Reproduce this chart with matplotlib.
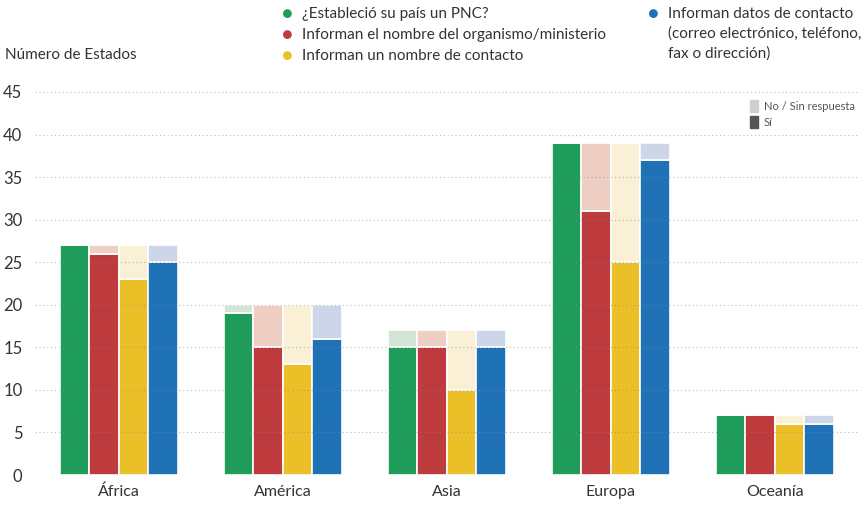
import matplotlib
matplotlib.use("Agg")
import matplotlib.pyplot as plt
import numpy as np

plt.rcParams['font.family'] = ['Lato', 'DejaVu Sans']

regions = ["África", "América", "Asia", "Europa", "Oceanía"]
series = ["¿Estableció su país un PNC?",
          "Informan el nombre del organismo/ministerio",
          "Informan un nombre de contacto",
          "Informan datos de contacto\n(correo electrónico, teléfono,\nfax o dirección)"]
si = [
    [27, 19, 15, 39, 7],
    [26, 15, 15, 31, 7],
    [23, 13, 10, 25, 6],
    [25, 16, 15, 37, 6],
]
totals = [27, 20, 17, 39, 7]
yticks = [0, 5, 10, 15, 20, 25, 30, 35, 40, 45]

dark = ["#1f9c5a", "#be3b3d", "#ebbf27", "#1f72b6"]
light = ["#d3e5d5", "#efcfc4", "#faf0d5", "#cdd5e9"]

fig = plt.figure(figsize=(8.65, 5.08), dpi=100)
ax = fig.add_axes([35/865, 1-475/508, (860-35)/865, (475-92)/508])

x = np.arange(len(regions))
w = 0.18
offs = [-1.5*w, -0.5*w, 0.5*w, 1.5*w]
for i in range(4):
    s = np.array(si[i])
    no = np.array(totals) - s
    ax.bar(x + offs[i], s, w, color=dark[i], edgecolor="white", linewidth=1.2, zorder=2)
    ax.bar(x + offs[i], no, w, bottom=s, color=light[i], edgecolor="white", linewidth=1.2, zorder=2)

ax.set_ylim(0, 45)
ax.set_xlim(-0.51, 4.52)
ax.set_yticks(yticks)
ax.set_yticklabels([str(t) for t in yticks], fontsize=12, color="#333333")
ax.set_xticks(x)
ax.set_xticklabels(regions, fontsize=11.5, color="#333333")
ax.tick_params(axis='both', length=0)
ax.tick_params(axis='y', pad=9)
ax.tick_params(axis='x', pad=7)
for sp in ax.spines.values():
    sp.set_visible(False)
for t in yticks:
    ax.axhline(t, color="#888888", linestyle=(0, (1, 2.5)), linewidth=0.8, zorder=3, alpha=0.55)

fig.text(5/865, 1-55/508, "Número de Estados", fontsize=11, color="#333333", va="center", ha="left")

# main legend
leg_pos = [(287, 14), (287, 35), (287, 56), (653, 14)]
for i in range(4):
    px, py = leg_pos[i]
    fig.text(px/865, 1-py/508, "●", fontsize=13, color=dark[i], ha="center", va="center")
    fig.text((px+15)/865, 1-(py-7)/508, series[i], fontsize=11, color="#333333",
             ha="left", va="top", linespacing=1.5)

# secondary legend
fig.patches.append(plt.Rectangle((750/865, 1-112/508), 8/865, 12/508, transform=fig.transFigure,
                                 color="#cfcfcf"))
fig.patches.append(plt.Rectangle((750/865, 1-128/508), 8/865, 12/508, transform=fig.transFigure,
                                 color="#555555"))
fig.text(764/865, 1-106/508, "No / Sin respuesta", fontsize=8, color="#555555", va="center")
fig.text(764/865, 1-122/508, "Sí", fontsize=8, color="#555555", va="center")

fig.savefig("out.png", dpi=100)
